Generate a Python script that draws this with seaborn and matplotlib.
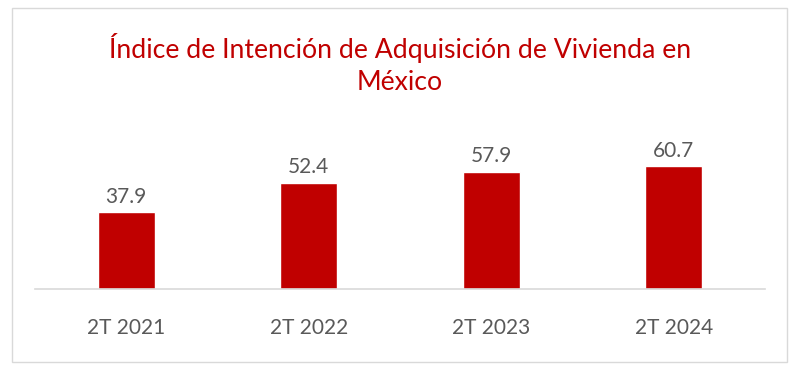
import matplotlib
matplotlib.use("Agg")
import matplotlib.pyplot as plt
import seaborn as sb
import pandas as pd
from matplotlib.patches import Rectangle

# Chart data
periods = ["2T 2021", "2T 2022", "2T 2023", "2T 2024"]
index_values = [37.9, 52.4, 57.9, 60.7]
title = "Índice de Intención de Adquisición de Vivienda en\nMéxico"

bar_color = "#C00000"
text_grey = "#595959"

sb.set_style("white")
plt.rcParams["font.family"] = ["Lato", "DejaVu Sans"]

df = pd.DataFrame({"period": periods, "value": index_values})

fig = plt.figure(figsize=(8, 3.75), dpi=100)
ax = fig.add_axes([0.04375, 0.2293, 0.9125, 0.432])

sb.barplot(data=df, x="period", y="value", color=bar_color, width=0.31,
           saturation=1, ax=ax)

# Value labels above bars
for container in ax.containers:
    ax.bar_label(container, fmt="%.1f", padding=4, fontsize=15, color=text_grey)

ax.set_ylim(0, 80)
ax.set_xlim(-0.5, 3.5)
ax.set_xlabel("")
ax.set_ylabel("")
ax.set_yticks([])
ax.tick_params(axis="x", length=0, labelsize=15, labelcolor=text_grey, pad=21)
for side in ["top", "left", "right"]:
    ax.spines[side].set_visible(False)
ax.spines["bottom"].set_color("#D9D9D9")
ax.spines["bottom"].set_linewidth(1.2)

fig.text(0.5, 0.83, title, ha="center", va="center", fontsize=19.2,
         color=bar_color, linespacing=1.35)

# Outer frame
fig.patches.append(Rectangle((12 / 800, 13 / 375), 775 / 800, 354 / 375,
                             transform=fig.transFigure, fill=False,
                             edgecolor="#D9D9D9", linewidth=1))

plt.savefig("out.png", dpi=100)
